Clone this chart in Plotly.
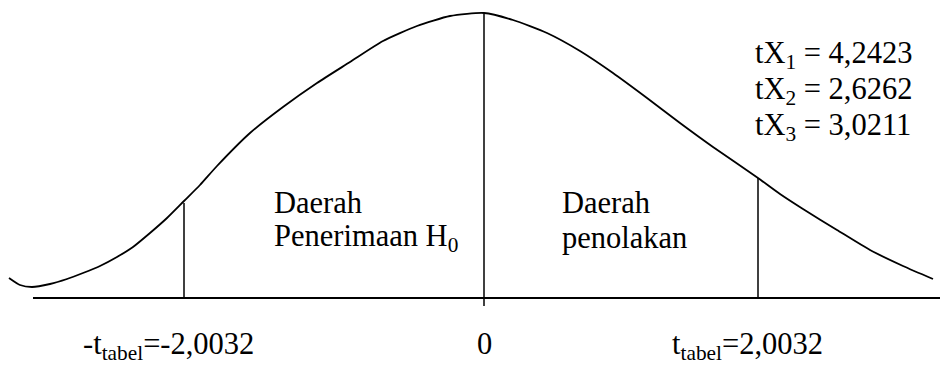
import plotly.graph_objects as go

# curve (x position, height above the axis)
curve_x = [9, 20, 32, 50, 67, 83, 100, 117, 133, 150, 167, 184, 200, 217, 250,
           283, 317, 350, 383, 417, 450, 484, 513, 547, 580, 613, 647, 680,
           713, 758, 780, 803, 837, 870, 903, 933]
curve_h = [20, 13, 11, 14, 19, 25, 32, 41, 51, 65, 80, 97, 113, 132, 165,
           191, 215, 236, 257, 272, 282, 285, 278, 265, 247, 225, 200, 175,
           151, 120, 104, 89, 68, 48, 32, 19]

# vertical markers: -t tabel, 0, t tabel
marker_x = [184, 484, 758]
marker_bottom = [0, -8, 0]
marker_top = [95, 284, 120]

axis_x = [33, 956]
axis_y = [0, 0]

t_values = ["4,2423", "2,6262", "3,0211"]

FONT = "Liberation Serif"
FS = 30.5

fig = go.Figure()

fig.add_trace(go.Scatter(x=curve_x, y=curve_h, mode="lines",
                         line=dict(color="black", width=1.8, shape="spline", smoothing=0.6),
                         hoverinfo="skip"))
fig.add_trace(go.Scatter(x=axis_x, y=axis_y, mode="lines",
                         line=dict(color="black", width=2.2), hoverinfo="skip"))
for mx, b, t in zip(marker_x, marker_bottom, marker_top):
    fig.add_trace(go.Scatter(x=[mx, mx], y=[b, t], mode="lines",
                             line=dict(color="black", width=1.5), hoverinfo="skip"))


def label(x, y, text, xanchor="left"):
    fig.add_annotation(x=x, y=y, text=text, showarrow=False, xanchor=xanchor,
                       yanchor="middle", font=dict(family=FONT, size=FS, color="black"))


label(272, 95, "Daerah")
label(272, 60, "Penerimaan H<sub>0</sub>")
label(560, 95, "Daerah")
label(560, 60, "penolakan")
for i, v in enumerate(t_values):
    label(753, 243 - 36 * i, "tX<sub>%d</sub> = %s" % (i + 1, v))
label(81, -48, "-t<sub>tabel</sub>=-2,0032")
label(484, -46, "0", xanchor="center")
label(670, -48, "t<sub>tabel</sub>=2,0032")

# the page puts the figure 8 px in from the top-left corner, so the ranges
# are shifted by that amount to keep the drawing where it sits in the picture
fig.update_layout(
    width=948, height=365,
    margin=dict(l=0, r=0, t=0, b=0),
    showlegend=False,
    plot_bgcolor="white",
    paper_bgcolor="white",
    xaxis=dict(range=[8, 956], visible=False, fixedrange=True),
    yaxis=dict(range=[-75, 290], visible=False, fixedrange=True),
)

fig.write_html("out.html")
